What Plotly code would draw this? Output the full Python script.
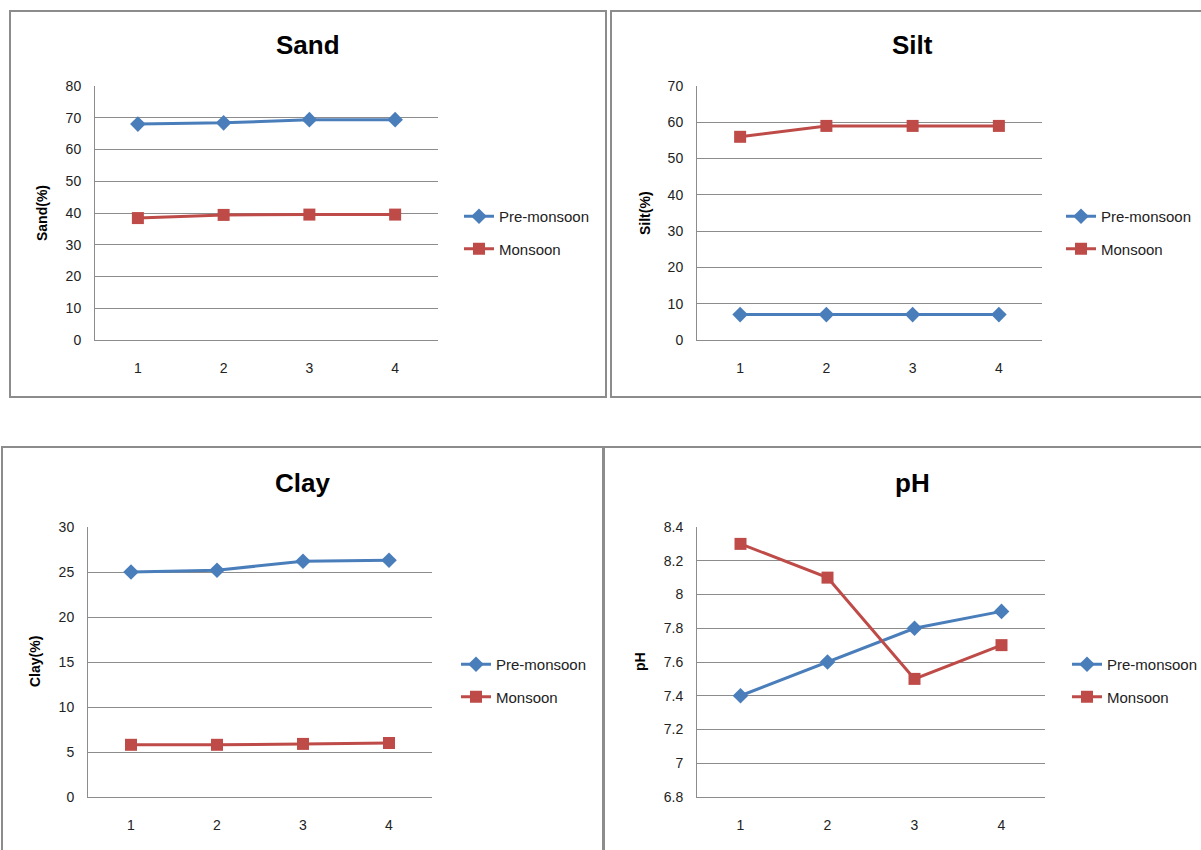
import plotly.graph_objects as go

# ---- data ----
sites = [1, 2, 3, 4]
series_names = ["Pre-monsoon", "Monsoon"]

sand_pre = [68.0, 68.4, 69.4, 69.4]
sand_mon = [38.4, 39.4, 39.5, 39.5]

silt_pre = [7.0, 7.0, 7.0, 7.0]
silt_mon = [56.0, 59.0, 59.0, 59.0]

clay_pre = [25.0, 25.2, 26.2, 26.3]
clay_mon = [5.8, 5.8, 5.9, 6.0]

ph_pre = [7.4, 7.6, 7.8, 7.9]
ph_mon = [8.3, 8.1, 7.5, 7.7]

titles = ["Sand", "Silt", "Clay", "pH"]
ytitles = ["Sand(%)", "Silt(%)", "Clay(%)", "pH"]
yranges = [(0, 80, 10), (0, 70, 10), (0, 30, 5), (6.8, 8.4, 0.2)]
ph_ticks = ["6.8", "7", "7.2", "7.4", "7.6", "7.8", "8", "8.2", "8.4"]

# ---- page geometry (pixels) ----
W, H = 1201, 850
BLUE = "#4A7EBB"
RED = "#BE4B48"
GRID = "#8C8C8C"
FONT = "Liberation Sans Narrow, Liberation Sans, Arial"

# plot area boxes: (x0, x1, ytop, ybottom)
boxes = [
    (95, 438, 86, 340),
    (697, 1042, 86, 340),
    (88, 432, 527, 797),
    (697, 1045, 527, 797),
]
legend_pos = [(459, 200), (1061, 200), (456, 648), (1067, 648)]
title_pos = [(308, 45), (912, 45), (302, 483), (912, 483)]
ytitle_x = [42, 645, 35, 640]
panels = [(10, 606, 11, 397), (611, 1203, 11, 397), (2, 603, 447, 870), (604, 1203, 447, 870)]

data_sets = [(sand_pre, sand_mon), (silt_pre, silt_mon), (clay_pre, clay_mon), (ph_pre, ph_mon)]


def px(x):
    return x / W


def py(y):
    return 1 - y / H


fig = go.Figure()
annotations = []
shapes = []

for i, (pre, mon) in enumerate(data_sets):
    n = i + 1
    xa = "x" if n == 1 else f"x{n}"
    ya = "y" if n == 1 else f"y{n}"
    leg = "legend" if n == 1 else f"legend{n}"
    for name, vals, color, sym, size in [
        (series_names[0], pre, BLUE, "diamond", 12),
        (series_names[1], mon, RED, "square", 12),
    ]:
        fig.add_trace(go.Scatter(
            x=sites, y=vals, name=name, mode="lines+markers",
            line=dict(color=color, width=3),
            marker=dict(symbol=sym, size=size, color=color),
            xaxis=xa, yaxis=ya, legend=leg, legendgroup=f"{n}-{name}",
            showlegend=True,
        ))

    x0, x1, yt, yb = boxes[i]
    lo, hi, step = yranges[i]
    nt = int(round((hi - lo) / step)) + 1
    tickvals = [round(lo + k * step, 2) for k in range(nt)]
    ticktext = ph_ticks if n == 4 else [f"{v:g}" for v in tickvals]

    fig.update_layout({
        f"xaxis{'' if n == 1 else n}": dict(
            domain=[px(x0), px(x1)], anchor=ya, range=[0.5, 4.5],
            tickvals=sites, ticks="outside", ticklen=0, ticklabelstandoff=15,
            showgrid=False, zeroline=False, showline=True, linecolor=GRID, linewidth=1,
            tickfont=dict(family=FONT, size=14, color="#222"), fixedrange=True,
        ),
        f"yaxis{'' if n == 1 else n}": dict(
            domain=[py(yb), py(yt)], anchor=xa, range=[lo, hi],
            tickvals=tickvals, ticktext=ticktext, ticks="outside", ticklen=0,
            ticklabelstandoff=10, showgrid=True, gridcolor=GRID, gridwidth=1,
            zeroline=False, showline=True, linecolor=GRID, linewidth=1,
            tickfont=dict(family=FONT, size=14, color="#222"), fixedrange=True,
        ),
        leg: dict(
            x=px(legend_pos[i][0]), y=py(legend_pos[i][1]), xanchor="left", yanchor="top",
            font=dict(family=FONT, size=15, color="#222"), bgcolor="rgba(0,0,0,0)",
            tracegroupgap=10, itemwidth=30, traceorder="grouped",
        ),
    })

    # chart title
    annotations.append(dict(
        x=px(title_pos[i][0]), y=py(title_pos[i][1]), xref="paper", yref="paper",
        text=f"<b>{titles[i]}</b>", showarrow=False,
        font=dict(family=FONT, size=26, color="#000"), xanchor="center", yanchor="middle",
    ))
    # y axis title
    annotations.append(dict(
        x=px(ytitle_x[i]), y=(py(yt) + py(yb)) / 2, xref="paper", yref="paper",
        text=f"<b>{ytitles[i]}</b>", showarrow=False, textangle=-90,
        font=dict(family=FONT, size=14, color="#000"), xanchor="center", yanchor="middle",
    ))
    # chart-area frame
    bx0, bx1, by0, by1 = panels[i]
    shapes.append(dict(
        type="rect", xref="paper", yref="paper",
        x0=px(bx0), x1=px(bx1), y0=py(by1), y1=py(by0),
        line=dict(color=GRID, width=2), fillcolor="rgba(0,0,0,0)",
    ))

fig.update_layout(
    width=W, height=H, margin=dict(l=0, r=0, t=0, b=0, autoexpand=False),
    paper_bgcolor="white", plot_bgcolor="white",
    annotations=annotations, shapes=shapes,
    font=dict(family=FONT),
)

fig.write_html("out.html")
